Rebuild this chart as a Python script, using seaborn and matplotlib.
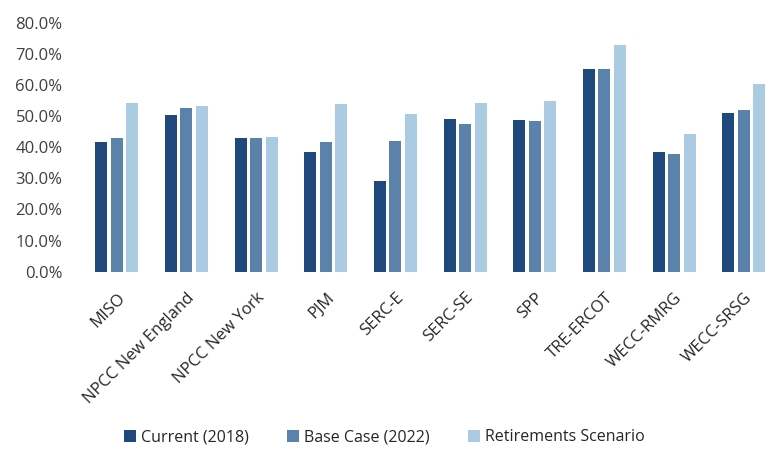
import matplotlib
matplotlib.use("Agg")
import matplotlib.pyplot as plt
import matplotlib.ticker as mtick
from matplotlib.patches import Patch
import pandas as pd
import seaborn as sns

# Regions on the x axis
regions = ["MISO", "NPCC New England", "NPCC New York", "PJM", "SERC-E",
           "SERC-SE", "SPP", "TRE-ERCOT", "WECC-RMRG", "WECC-SRSG"]

# Reserve margin values (fraction)
current_2018 = [0.418, 0.502, 0.429, 0.384, 0.292, 0.491, 0.488, 0.650, 0.384, 0.511]
base_2022 = [0.429, 0.525, 0.429, 0.418, 0.421, 0.474, 0.484, 0.650, 0.377, 0.519]
retirements = [0.542, 0.532, 0.433, 0.538, 0.508, 0.542, 0.550, 0.729, 0.443, 0.604]

series_names = ["Current (2018)", "Base Case (2022)", "Retirements Scenario"]
colors = ["#1f497d", "#5b82aa", "#abcbe3"]

df = pd.DataFrame({
    "region": regions * 3,
    "value": current_2018 + base_2022 + retirements,
    "series": [series_names[0]] * len(regions)
              + [series_names[1]] * len(regions)
              + [series_names[2]] * len(regions),
})

sns.set_theme(style="white")
plt.rcParams["font.family"] = ["Open Sans", "DejaVu Sans"]

fig = plt.figure(figsize=(7.73, 4.58), dpi=100)
ax = fig.add_axes([82 / 773, 0.4068, 1 - 82 / 773, 0.5436])

sns.barplot(data=df, x="region", y="value", hue="series", order=regions,
            hue_order=series_names, palette=colors, width=0.668, gap=0.226,
            linewidth=0, saturation=1, legend=False, ax=ax)

ax.set_ylim(0, 0.8)
ax.set_xlim(-0.5, 9.42)
ax.yaxis.set_major_formatter(mtick.PercentFormatter(1.0, decimals=1))
ax.set_yticks([i / 10 for i in range(9)])
# labels sit slightly right of the group centre, as in the original
ax.set_xticks([i + 0.085 for i in range(len(regions))], regions)
ax.set_xlabel("")
ax.set_ylabel("")
for s in ax.spines.values():
    s.set_visible(False)

ax.tick_params(axis="y", length=0, pad=14, labelsize=12, labelcolor="#404040")
ax.tick_params(axis="x", length=0, pad=17, labelsize=12, labelcolor="#262626")
plt.setp(ax.get_xticklabels(), rotation=45, ha="right", va="center",
         rotation_mode="anchor")

handles = [Patch(facecolor=c, edgecolor="none") for c in colors]
fig.legend(handles, series_names, loc="center", bbox_to_anchor=(0.497, 0.045),
           ncol=3, frameon=False, fontsize=11.5, handlelength=0.75,
           handleheight=0.75, handletextpad=0.3, columnspacing=2.4,
           labelcolor="#262626")

fig.savefig("out.png", dpi=100)
